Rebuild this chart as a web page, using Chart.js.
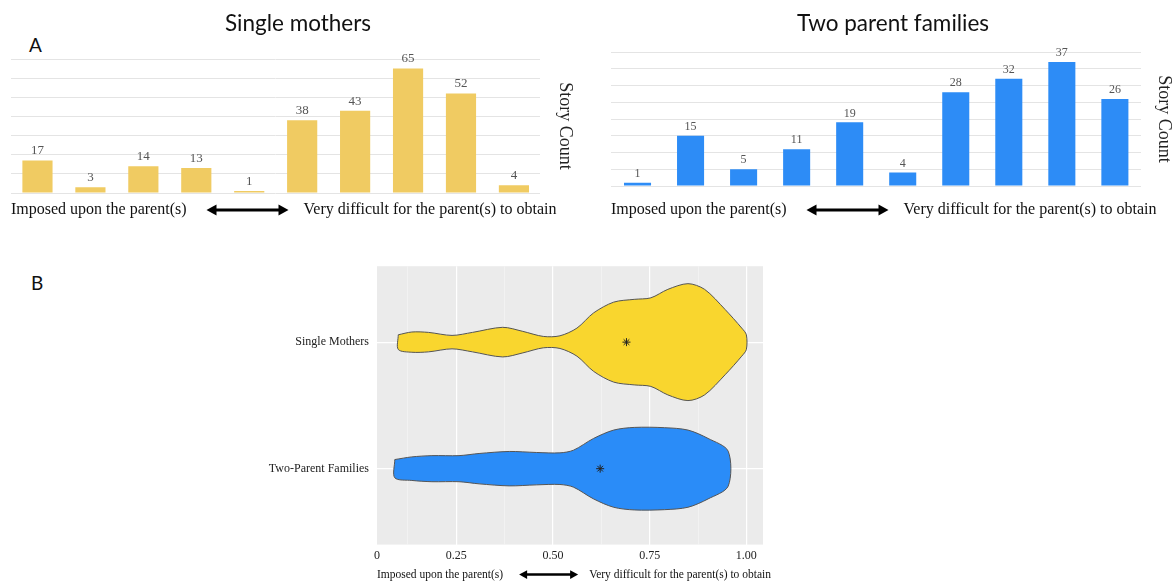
<!DOCTYPE html>
<html>
<head>
<meta charset="utf-8">
<script src="https://cdn.jsdelivr.net/npm/chart.js@4.4.1/dist/chart.umd.min.js"></script>
<style>
  body { margin: 0; background: #fff; width: 1175px; height: 583px; position: relative; overflow: hidden; }
  canvas { position: absolute; }
  .tag { position: absolute; font-family: Lato, "Open Sans", sans-serif; font-size: 19px; color: #111; }
</style>
</head>
<body>
<div class="tag" style="left:29px; top:33px;">A</div>
<div class="tag" style="left:31px; top:271px;">B</div>
<canvas id="singleChart" width="595" height="230" style="left:0; top:0;"></canvas>
<canvas id="twoChart" width="585" height="230" style="left:590px; top:0;"></canvas>
<canvas id="violinChart" width="550" height="332" style="left:250px; top:251px;"></canvas>
<script>
// story counts per level (1 = imposed ... 10 = very difficult to obtain)
const levels = ['1', '2', '3', '4', '5', '6', '7', '8', '9', '10'];
const singleMothers = [17, 3, 14, 13, 1, 38, 43, 65, 52, 4];
const twoParents = [1, 15, 5, 11, 19, 4, 28, 32, 37, 26];

const leftNote = 'Imposed upon the parent(s)';
const rightNote = 'Very difficult for the parent(s) to obtain';

// violin outlines: x position and half width (in category units)
const violinGroups = ['Single Mothers', 'Two-Parent Families'];
const singleX = [0.100, 0.135, 0.178, 0.239, 0.292, 0.370, 0.422, 0.475, 0.518, 0.562, 0.605, 0.657, 0.710, 0.753, 0.797, 0.849, 0.892, 0.945, 0.988, 1.000];
const singleHalf = [0.058, 0.080, 0.077, 0.053, 0.077, 0.117, 0.085, 0.045, 0.050, 0.111, 0.231, 0.316, 0.338, 0.350, 0.417, 0.462, 0.417, 0.258, 0.111, 0.058];
const twoX = [0.091, 0.135, 0.187, 0.257, 0.309, 0.387, 0.457, 0.518, 0.553, 0.605, 0.657, 0.710, 0.788, 0.849, 0.901, 0.953];
const twoHalf = [0.072, 0.093, 0.103, 0.103, 0.120, 0.136, 0.128, 0.125, 0.146, 0.239, 0.305, 0.326, 0.324, 0.305, 0.239, 0.138];
const violinMeans = [0.69, 0.622];
const xTicks = [0.045, 0.125, 0.25, 0.375, 0.5, 0.625, 0.75, 0.875, 1.0];

function drawArrow(ctx, x1, x2, y, lw, head) {
  ctx.save();
  ctx.strokeStyle = '#000';
  ctx.fillStyle = '#000';
  ctx.lineWidth = lw;
  ctx.beginPath();
  ctx.moveTo(x1 + head * 0.8, y);
  ctx.lineTo(x2 - head * 0.8, y);
  ctx.stroke();
  ctx.beginPath();
  ctx.moveTo(x1, y);
  ctx.lineTo(x1 + head, y - head * 0.55);
  ctx.lineTo(x1 + head, y + head * 0.55);
  ctx.closePath();
  ctx.fill();
  ctx.beginPath();
  ctx.moveTo(x2, y);
  ctx.lineTo(x2 - head, y - head * 0.55);
  ctx.lineTo(x2 - head, y + head * 0.55);
  ctx.closePath();
  ctx.fill();
  ctx.restore();
}

const valueLabels = {
  id: 'valueLabels',
  afterDatasetsDraw(chart, args, opts) {
    const ctx = chart.ctx;
    const ds = chart.data.datasets[0];
    ctx.save();
    ctx.font = opts.font;
    ctx.fillStyle = '#555';
    ctx.textAlign = 'center';
    ctx.textBaseline = 'bottom';
    chart.getDatasetMeta(0).data.forEach((bar, i) => {
      ctx.fillText(ds.data[i], bar.x, bar.y - 3);
    });
    ctx.restore();
  }
};

const rangeNote = {
  id: 'rangeNote',
  afterDraw(chart, args, opts) {
    const {ctx, chartArea} = chart;
    const y = chartArea.bottom + opts.offset;
    ctx.save();
    ctx.font = opts.font;
    ctx.fillStyle = '#111';
    ctx.textAlign = 'left';
    ctx.textBaseline = 'middle';
    let x = chartArea.left + (opts.shift || 0);
    ctx.fillText(leftNote, x, y);
    x += ctx.measureText(leftNote).width + opts.gap1;
    drawArrow(ctx, x, x + opts.arrow, y, opts.lw, opts.head);
    x += opts.arrow + opts.gap2;
    ctx.fillText(rightNote, x, y);
    ctx.restore();
  }
};

const panelBg = {
  id: 'panelBg',
  beforeDraw(chart) {
    const {ctx, chartArea: c} = chart;
    ctx.save();
    ctx.fillStyle = '#EBEBEB';
    ctx.fillRect(c.left, c.top, c.width, c.height);
    ctx.restore();
  }
};

function barChart(id, title, values, color, yMax, step, pad, axisPad, labelFont, noteOffset) {
  new Chart(document.getElementById(id), {
    type: 'bar',
    data: {
      labels: levels,
      datasets: [{
        data: values,
        backgroundColor: color,
        barPercentage: pad.bar,
        categoryPercentage: 1
      }]
    },
    options: {
      responsive: false,
      animation: false,
      layout: { padding: { left: pad.left, right: pad.right, top: 0, bottom: pad.bottom } },
      plugins: {
        legend: { display: false },
        tooltip: { enabled: false },
        title: {
          display: true,
          text: title,
          font: { family: 'Lato', size: 22.5, weight: 'normal' },
          color: '#111',
          padding: { top: 10, bottom: pad.titleBottom }
        },
        valueLabels: { font: labelFont },
        rangeNote: { offset: noteOffset, font: '16px "Liberation Serif"', gap1: 20, gap2: 15, arrow: 82, lw: 3, head: 10 }
      },
      scales: {
        x: { display: false },
        y: {
          position: 'right',
          min: 0,
          max: yMax,
          ticks: { display: false, stepSize: step },
          grid: { color: '#E4E4E4', drawTicks: false },
          border: { display: false },
          title: {
            display: true,
            text: 'Story Count',
            font: { family: 'Liberation Serif', size: 18 },
            color: '#222',
            padding: axisPad
          }
        }
      }
    },
    plugins: [valueLabels, rangeNote]
  });
}

barChart('singleChart', 'Single mothers', singleMothers, '#F0CB62', 70, 10,
  { left: 11, right: 10, bottom: 37, titleBottom: 22, bar: 0.57 },
  { top: 9, bottom: 14 }, '13px "Liberation Serif"', 17);

barChart('twoChart', 'Two parent families', twoParents, '#2D8CF6', 40, 5,
  { left: 21, right: 0, bottom: 44, titleBottom: 15, bar: 0.51 },
  { top: 0, bottom: 12 }, '12px "Liberation Serif"', 24);

function outline(xs, half, center) {
  const upper = xs.map((x, i) => ({ x: x, y: center + half[i] }));
  const lower = xs.map((x, i) => ({ x: x, y: center - half[i] })).reverse();
  return upper.concat(lower, [upper[0]]);
}

new Chart(document.getElementById('violinChart'), {
  type: 'scatter',
  data: {
    datasets: [
      {
        data: [{ x: violinMeans[0], y: 2 }, { x: violinMeans[1], y: 1 }],
        pointStyle: 'star',
        pointRadius: 4,
        borderColor: '#222',
        borderWidth: 1,
        order: 0
      },
      {
        data: outline(singleX, singleHalf, 2),
        showLine: true,
        fill: 'shape',
        backgroundColor: '#F9D62E',
        borderColor: '#555',
        borderWidth: 1,
        pointRadius: 0,
        tension: 0.3,
        order: 1
      },
      {
        data: outline(twoX, twoHalf, 1),
        showLine: true,
        fill: 'shape',
        backgroundColor: '#2A8CF8',
        borderColor: '#555',
        borderWidth: 1,
        pointRadius: 0,
        tension: 0.3,
        order: 1
      }
    ]
  },
  options: {
    responsive: false,
    animation: false,
    layout: { padding: { left: 7, right: 37, top: 1, bottom: 16 } },
    plugins: {
      legend: { display: false },
      tooltip: { enabled: false },
      rangeNote: { offset: 30, font: '11.5px "Liberation Serif"', gap1: 16, gap2: 11, arrow: 59, lw: 2.5, head: 8 }
    },
    scales: {
      x: {
        type: 'linear',
        min: xTicks[0],
        max: 1.043,
        afterBuildTicks: s => { s.ticks = xTicks.map(v => ({ value: v })); },
        ticks: {
          padding: 4,
          color: '#222',
          font: { family: 'Liberation Serif', size: 12 },
          callback: v => v === xTicks[0] ? '0' : (Math.round(v * 100) % 25 === 0 ? v.toFixed(2) : '')
        },
        grid: {
          drawTicks: false,
          color: c => c.tick.value === xTicks[0] ? 'rgba(0,0,0,0)' : (Math.round(c.tick.value * 100) % 25 === 0 ? '#FFFFFF' : '#F4F4F4'),
          lineWidth: c => Math.round(c.tick.value * 1000) % 250 === 0 ? 1.2 : 0.8
        },
        border: { display: false }
      },
      y: {
        type: 'linear',
        min: 0.4,
        max: 2.6,
        afterBuildTicks: s => { s.ticks = [{ value: 1 }, { value: 2 }]; },
        afterFit: s => { s.width = 120; },
        ticks: {
          padding: 8,
          color: '#222',
          font: { family: 'Liberation Serif', size: 12 },
          callback: v => v === 2 ? violinGroups[0] : violinGroups[1]
        },
        grid: { drawTicks: false, color: '#FFFFFF', lineWidth: 1.2 },
        border: { display: false }
      }
    }
  },
  plugins: [panelBg, rangeNote]
});
</script>
</body>
</html>
